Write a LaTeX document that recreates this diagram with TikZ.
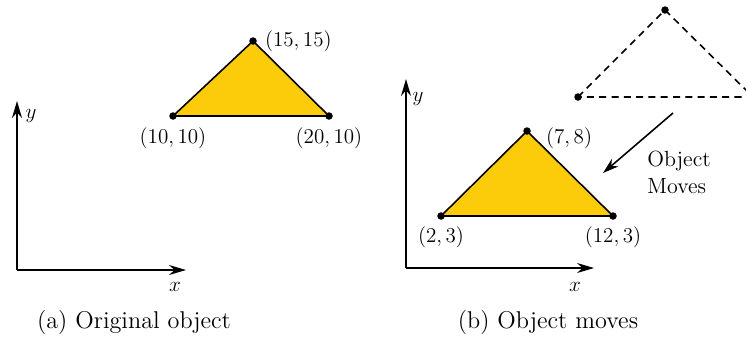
\documentclass[tikz,border=0pt]{standalone}
\usepackage{tikz}
\usetikzlibrary{arrows.meta,backgrounds}

\definecolor{triyellow}{RGB}{252,204,10}

\begin{document}
\begin{tikzpicture}[
    x=0.02cm, y=-0.02cm,
    font=\fontsize{11.5}{13}\selectfont,
    vertex/.style={circle, fill=black, inner sep=0, minimum size=0.15cm},
    axis/.style={line width=0.9pt, -{Stealth[length=3.4mm, width=2mm]}},
    tri/.style={fill=triyellow, draw=black, line width=0.9pt, line join=round},
    ghost/.style={draw=black, line width=0.9pt, dash pattern=on 4pt off 3pt},
    biglbl/.style={font=\fontsize{12.5}{15.5}\selectfont},
    caption/.style={font=\fontsize{13.8}{16}\selectfont}
]
\useasboundingbox (0,0) rectangle (746,343);

% ============================================
% (a) OBJETO ORIGINAL
% ============================================

% Ejes
\coordinate (oA) at (17,270);
\coordinate (xA) at (186,270);
\coordinate (yA) at (17,101);
\draw[axis] (oA) -- (xA);
\draw[axis] (oA) -- (yA);
\node (xlblA) at (175,287) {$x$};
\node (ylblA) at (31,116) {$y$};

% Vertices
\node[vertex, label={[label distance=1pt]below:$(10,10)$}] (a1) at (173,116) {};
\node[vertex, label={[label distance=1pt]right:$(15,15)$}] (a2) at (253,41) {};
\node[vertex, label={[label distance=1pt]below:$(20,10)$}] (a3) at (329,116) {};

% Triangulo
\begin{scope}[on background layer]
\filldraw[tri] (a1.center) -- (a2.center) -- (a3.center) -- cycle;
\end{scope}

\node[caption] (capA) at (134,322) {(a) Original object};

% ============================================
% (b) EL OBJETO SE MUEVE
% ============================================

% Ejes
\coordinate (oB) at (406,268);
\coordinate (xB) at (594,268);
\coordinate (yB) at (406,79);
\draw[axis] (oB) -- (xB);
\draw[axis] (oB) -- (yB);
\node (xlblB) at (575,287) {$x$};
\node (ylblB) at (418,99) {$y$};

% Triangulo desplazado
\node[vertex, label={[biglbl, label distance=0pt]below:$(2,3)$}] (b1) at (441,216) {};
\node[vertex, label={[biglbl, label distance=5pt, yshift=-4pt]right:$(7,8)$}] (b2) at (527,131) {};
\node[vertex, label={[biglbl, label distance=0pt]below:$(12,3)$}] (b3) at (613,216) {};

\begin{scope}[on background layer]
\filldraw[tri] (b1.center) -- (b2.center) -- (b3.center) -- cycle;
\end{scope}

% Posicion anterior (discontinua)
\node[vertex] (g1) at (578,97) {};
\node[vertex] (g2) at (665,10) {};
\node[vertex] (g3) at (753,97) {};
\draw[ghost] (g1.center) -- (g2.center) -- (g3.center) -- cycle;

% Flecha de movimiento
\coordinate (mvS) at (673,113);
\coordinate (mvE) at (603,173);
\draw[line width=0.9pt, -{Stealth[length=3.2mm, width=2mm]}] (mvS) -- (mvE);
\node[biglbl, align=left, anchor=west, inner sep=0] (mvlbl) at (647,172) {Object\\Moves};

\node[caption] (capB) at (548,322) {(b) Object moves};

\end{tikzpicture}
\end{document}
